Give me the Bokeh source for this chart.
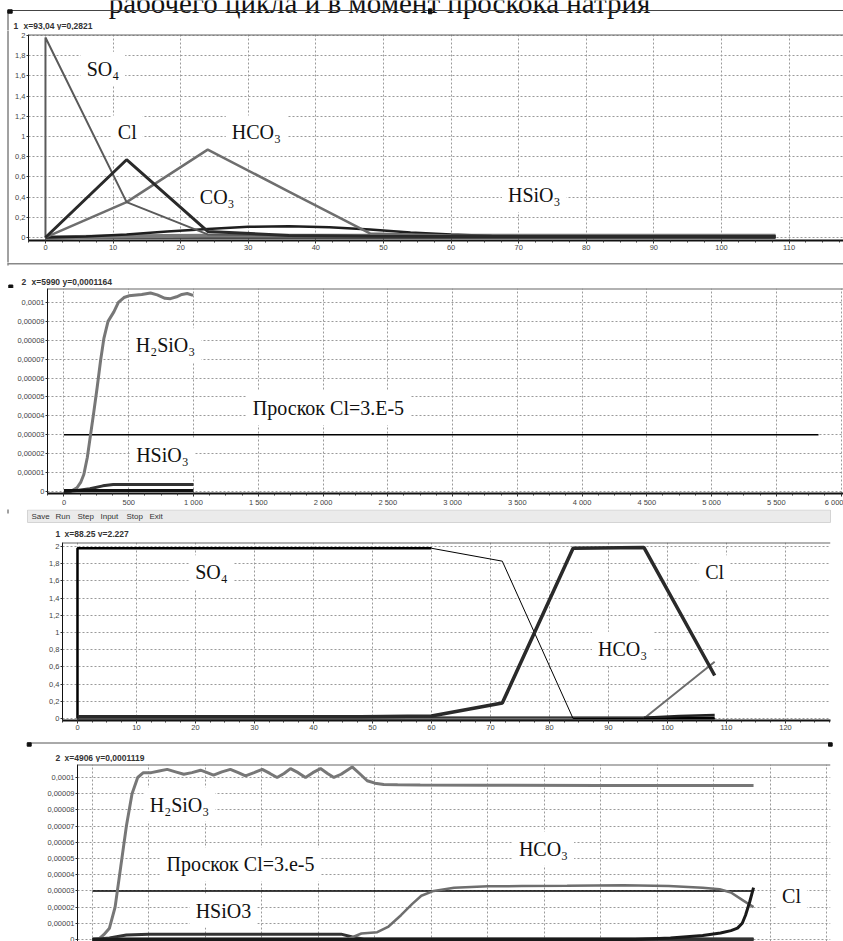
from bokeh.plotting import figure
from bokeh.models import Range1d, FixedTicker, Label, Span
from bokeh.layouts import column, row
from bokeh.embed import file_html
from bokeh.resources import INLINE
from bokeh.core.properties import value

# ---------------------------------------------------------------- DATA
TITLE_TEXT = "рабочего цикла и в момент проскока натрия"
HEADERS = [("1", "x=93,04 y=0,2821"), ("2", "x=5990 y=0,0001164"),
           ("1", "x=88,25 y=2,227"), ("2", "x=4906 y=0,0001119")]
MENU_ITEMS = ["Save", "Run", "Step", "Input", "Stop", "Exit"]

# panel 1
p1_x = [0, 12, 24, 36, 48, 60, 72, 84, 96, 108]
p1_so4_x = [0, 0, 12, 24, 36, 48, 60, 72, 84, 96, 108]
p1_so4_y = [0, 1.98, 0.35, 0.03, 0.02, 0.015, 0.01, 0.01, 0.01, 0.01, 0.01]
p1_cl_y = [0, 0.77, 0.06, 0.02, 0.012, 0.01, 0.01, 0.01, 0.01, 0.01]
p1_hco3_y = [0, 0.35, 0.87, 0.455, 0.04, 0.02, 0.015, 0.015, 0.015, 0.015]
p1_co3_x = [0, 6, 12, 18, 24, 30, 36, 42, 48, 54, 60, 66, 72, 84, 96, 108]
p1_co3_y = [0, 0.01, 0.03, 0.06, 0.085, 0.105, 0.11, 0.1, 0.08, 0.05, 0.03, 0.015, 0.01, 0.008, 0.006, 0.005]
p1_hsio3_y = [0, 0.012, 0.016, 0.016, 0.016, 0.016, 0.016, 0.016, 0.016, 0.016]
p1_h2sio3_y = [0.003, 0.003, 0.003, 0.003, 0.003, 0.003, 0.003, 0.003, 0.003, 0.003]
p1_xticks = [0, 10, 20, 30, 40, 50, 60, 70, 80, 90, 100, 110]
p1_xlabels = ["0", "10", "20", "30", "40", "50", "60", "70", "80", "90", "100", "110"]
p1_yticks = [0, 0.2, 0.4, 0.6, 0.8, 1, 1.2, 1.4, 1.6, 1.8, 2]
p1_ylabels = ["0", "0,2", "0,4", "0,6", "0,8", "1", "1,2", "1,4", "1,6", "1,8", "2"]

# panel 2
p2_h2sio3_x = [0, 50, 100, 130, 153, 180, 205, 230, 256, 282, 308, 340, 385, 420, 463,
               500, 540, 600, 668, 720, 780, 822, 870, 910, 951, 997]
p2_h2sio3_y = [0.0, 0.0, 0.2e-5, 0.5e-5, 0.9e-5, 1.8e-5, 3.0e-5, 4.2e-5, 5.5e-5, 6.9e-5, 8.1e-5,
               9.0e-5, 9.5e-5, 10.0e-5, 10.26e-5, 10.35e-5, 10.38e-5, 10.42e-5, 10.5e-5, 10.4e-5,
               10.22e-5, 10.2e-5, 10.3e-5, 10.42e-5, 10.47e-5, 10.37e-5]
p2_hsio3_x = [0, 100, 200, 300, 380, 500, 600, 700, 800, 900, 1000]
p2_hsio3_y = [0.0, 0.05e-5, 0.15e-5, 0.3e-5, 0.37e-5, 0.37e-5, 0.37e-5, 0.37e-5, 0.37e-5, 0.37e-5, 0.37e-5]
p2_base_x = [0, 1000]
p2_base_y = [0.05e-5, 0.05e-5]
p2_thr_x = [0, 5826]
p2_thr_y = [3e-5, 3e-5]
p2_xticks = [0, 500, 1000, 1500, 2000, 2500, 3000, 3500, 4000, 4500, 5000, 5500, 6000]
p2_xlabels = ["0", "500", "1 000", "1 500", "2 000", "2 500", "3 000", "3 500", "4 000",
              "4 500", "5 000", "5 500", "6 000"]
p2_yticks = [0, 0.00001, 0.00002, 0.00003, 0.00004, 0.00005, 0.00006, 0.00007, 0.00008, 0.00009, 0.0001]
p2_ylabels = ["0", "0,00001", "0,00002", "0,00003", "0,00004", "0,00005", "0,00006", "0,00007",
              "0,00008", "0,00009", "0,0001"]

# panel 3
p3_x = [0, 12, 24, 36, 48, 60, 72, 84, 96, 108]
p3_so4_x = [0, 0, 60, 72, 84, 96, 108]
p3_so4_y = [0, 1.98, 1.98, 1.83, 0.0, 0.0, 0.0]
p3_cl_y = [0.02, 0.02, 0.02, 0.02, 0.02, 0.03, 0.18, 1.98, 1.99, 0.5]
p3_hco3_y = [0, 0, 0, 0, 0, 0, 0, 0, 0, 0.66]
p3_co3_x = [96, 102, 108]
p3_co3_y = [0.01, 0.03, 0.04]
p3_base_y = [0.005, 0.005, 0.005, 0.005, 0.005, 0.005, 0.005, 0.005, 0.005, 0.005]
p3_xticks = [0, 10, 20, 30, 40, 50, 60, 70, 80, 90, 100, 110, 120]
p3_xlabels = ["0", "10", "20", "30", "40", "50", "60", "70", "80", "90", "100", "110", "120"]

# panel 4
p4_h2sio3_x = [0, 60, 100, 150, 200, 250, 300, 350, 400, 450, 520, 590, 661, 735, 808, 880, 956,
               1015, 1071, 1145, 1220, 1290, 1354, 1430, 1502, 1570, 1634, 1695, 1752, 1820, 1885,
               1950, 2018, 2080, 2136, 2200, 2298, 2370, 2431, 2500, 2577, 2700, 2900, 3500, 4500, 5850]
p4_h2sio3_y = [0.0, 0.05e-5, 0.3e-5, 0.7e-5, 2.0e-5, 4.5e-5, 7.0e-5, 9.0e-5, 10.0e-5, 10.3e-5,
               10.3e-5, 10.4e-5, 10.5e-5, 10.35e-5, 10.2e-5, 10.3e-5, 10.45e-5, 10.3e-5, 10.15e-5,
               10.35e-5, 10.5e-5, 10.3e-5, 10.1e-5, 10.3e-5, 10.5e-5, 10.25e-5, 10.0e-5, 10.25e-5,
               10.55e-5, 10.3e-5, 10.0e-5, 10.3e-5, 10.55e-5, 10.25e-5, 10.0e-5, 10.2e-5, 10.65e-5,
               10.2e-5, 9.8e-5, 9.65e-5, 9.57e-5, 9.55e-5, 9.53e-5, 9.52e-5, 9.51e-5, 9.51e-5]
p4_hsio3_x = [0, 150, 300, 500, 1000, 2200, 2300, 2400, 5850]
p4_hsio3_y = [0.0, 0.1e-5, 0.28e-5, 0.33e-5, 0.33e-5, 0.33e-5, 0.15e-5, 0.02e-5, 0.0]
p4_hco3_x = [2250, 2300, 2380, 2520, 2620, 2730, 2830, 2910, 3020, 3200, 3500, 3800, 4200, 4700,
             5100, 5400, 5550, 5650, 5760, 5850]
p4_hco3_y = [0.0, 0.15e-5, 0.37e-5, 0.45e-5, 0.8e-5, 1.5e-5, 2.2e-5, 2.7e-5, 3.0e-5, 3.2e-5,
             3.28e-5, 3.3e-5, 3.32e-5, 3.35e-5, 3.3e-5, 3.2e-5, 3.1e-5, 2.9e-5, 2.4e-5, 2.0e-5]
p4_cl_x = [0, 4800, 5115, 5400, 5558, 5650, 5708, 5750, 5779, 5815, 5850]
p4_cl_y = [0.0, 0.0, 0.1e-5, 0.25e-5, 0.4e-5, 0.55e-5, 0.7e-5, 1.0e-5, 1.5e-5, 2.3e-5, 3.2e-5]
p4_base_x = [0, 5850]
p4_base_y = [0.03e-5, 0.03e-5]
p4_thr_x = [0, 5850]
p4_thr_y = [3e-5, 3e-5]
p4_xgrid = [0, 500, 1000, 1500, 2000, 2500, 3000, 3500, 4000, 4500, 5000, 5500, 6000, 6500]

# text labels: (x, y, text)
p1_labels = [(8.5, 1.67, "SO₄"), (12.1, 1.04, "Cl"), (31.2, 1.04, "HCO₃"),
             (25.4, 0.40, "CO₃"), (72.3, 0.42, "HSiO₃")]
p2_labels = [(784, 7.74e-5, "H₂SiO₃"), (2042, 4.42e-5, "Проскок Cl=3.E-5"), (760, 1.95e-5, "HSiO₃")]
p3_labels = [(22.7, 1.70, "SO₄"), (108, 1.70, "Cl"), (92.4, 0.81, "HCO₃")]
p4_labels = [(770, 8.33e-5, "H₂SiO₃"), (1310, 4.63e-5, "Проскок Cl=3.e-5"),
             (1159, 1.79e-5, "HSiO3"), (3991, 5.6e-5, "HCO₃"), (6186, 2.7e-5, "Cl")]

# ---------------------------------------------------------------- LAYOUT
W = 843
GRAY = "#6e6e6e"
DARK = "#2a2a2a"
SANS = "Liberation Sans"
SERIF = "Liberation Serif"


def strip(width, top_px, bottom_px, x0=0.0):
    s = figure(width=width, height=bottom_px - top_px,
               x_range=Range1d(x0, x0 + width), y_range=Range1d(bottom_px, top_px),
               x_axis_location=None, y_axis_location=None, frame_align=False,
               output_backend="svg", toolbar_location=None, tools="", min_border=0)
    s.grid.visible = False
    s.outline_line_color = None
    s.background_fill_color = "white"
    s.border_fill_color = "white"
    return s


def header(s, x1, x2, y, pair):
    s.text(x=[x1, x2], y=[y, y], text=[pair[0], pair[1]], text_font=value(SANS),
           text_font_size="8.5px", text_font_style="bold", text_color="#333",
           text_baseline="middle", text_align="left")


def panel(width, height, xr, yr, bl, br, bt, bb, xaxis=True):
    p = figure(width=width, height=height, x_range=Range1d(*xr), y_range=Range1d(*yr),
               x_axis_location="below" if xaxis else None, frame_align=False,
               output_backend="svg", toolbar_location=None, tools="",
               min_border_left=bl, min_border_right=br, min_border_top=bt, min_border_bottom=bb)
    p.outline_line_color = None
    p.background_fill_color = "white"
    p.border_fill_color = "white"
    p.grid.grid_line_color = "#9a9a9a"
    p.grid.grid_line_dash = "2 2"
    p.grid.grid_line_width = 1
    for ax in p.axis:
        ax.axis_line_color = "#111"
        ax.major_tick_line_color = "#333"
        ax.minor_tick_line_color = "#333"
        ax.major_tick_in = 0
        ax.minor_tick_in = 0
        ax.major_label_text_font = SANS
        ax.major_label_text_font_size = "7.5px"
        ax.major_label_text_color = "#444"
    for ax in p.yaxis:
        ax.major_tick_out = 2
        ax.minor_tick_out = 0
        ax.major_label_standoff = 1
    for ax in p.xaxis:
        ax.axis_line_width = 2
        ax.major_tick_out = 3
        ax.minor_tick_out = 2
        ax.major_label_standoff = 1
    p.add_layout(Span(location=yr[1], dimension="width", line_color="#666", line_width=2))
    return p


def set_y(p, ticks, labels):
    p.yaxis.ticker = FixedTicker(ticks=ticks)
    p.yaxis.major_label_overrides = dict(zip(ticks, labels))


def set_x(p, ticks, labels, minor):
    p.xaxis.ticker = FixedTicker(ticks=ticks, minor_ticks=minor)
    p.xaxis.major_label_overrides = dict(zip(ticks, labels))


def add_labels(p, labels):
    for x, y, t in labels:
        p.add_layout(Label(x=x, y=y, text=t, text_font=SERIF, text_font_size="20px",
                           text_color="#111", text_align="center", text_baseline="middle",
                           background_fill_color="white", padding=6))


# ---- strip 0: clipped heading + panel-1 header
s0 = strip(W, 0, 30)
s0.text(x=[379], y=[2], text=[TITLE_TEXT], text_font=value(SERIF), text_font_size="29px",
        text_align="center", text_baseline="alphabetic", text_color="#111")
s0.segment(x0=[7.5, 7.5], y0=[10, 10], x1=[843, 7.5], y1=[10, 40], line_color="#444", line_width=1)
s0.quad(left=[7.3, 428], right=[11.7, 431.3], top=[9.3, 8.3], bottom=[12.7, 13.3], color="#111")
header(s0, 13, 23, 25, HEADERS[0])

# ---- panel 1 (with a thin strip on its left for the page border)
l1 = strip(10, 30, 262)
l1.segment(x0=[7.5], y0=[0], x1=[7.5], y1=[300], line_color="#444", line_width=1)
p1 = panel(W - 10, 232, (-2.51, 118.05), (-0.03, 2.01), 18, 0, 4, 22)
set_x(p1, p1_xticks, p1_xlabels, [i * 2.5 for i in range(-1, 48)])
set_y(p1, p1_yticks, p1_ylabels)
p1.line(p1_x, p1_h2sio3_y, line_color="#111", line_width=3)
p1.line(p1_x, p1_hsio3_y, line_color="#7a7a7a", line_width=4)
p1.line(p1_co3_x, p1_co3_y, line_color="#1e1e1e", line_width=2.5)
p1.line(p1_x, p1_hco3_y, line_color=GRAY, line_width=2.5)
p1.line(p1_so4_x, p1_so4_y, line_color="#5a5a5a", line_width=2)
p1.line(p1_x, p1_cl_y, line_color=DARK, line_width=3)
add_labels(p1, p1_labels)

# ---- strip 1
s1 = strip(W, 262, 288)
s1.segment(x0=[7.5, 7.5], y0=[263.2, 255], x1=[843, 7.5], y1=[263.2, 265], line_color="#888", line_width=1.5)
s1.quad(left=[8.3], right=[12.3], top=[284.5], bottom=[288], color="#111")
header(s1, 21, 31, 281, HEADERS[1])

# ---- panel 2
p2 = panel(W, 221, (-127.4, 6019), (-1.05e-6, 1.0737e-4), 47, 0, 0, 15)
set_x(p2, p2_xticks, p2_xlabels, [i * 125 for i in range(-1, 49)])
set_y(p2, p2_yticks, p2_ylabels)
p2.line(p2_thr_x, p2_thr_y, line_color="#000", line_width=1.5)
p2.line(p2_h2sio3_x, p2_h2sio3_y, line_color="#777", line_width=3)
p2.line(p2_hsio3_x, p2_hsio3_y, line_color="#333", line_width=3)
p2.line(p2_base_x, p2_base_y, line_color="#111", line_width=3)
add_labels(p2, p2_labels)

# ---- strip 2: menu bar + panel-3 header
s2 = strip(W, 509, 537)
s2.quad(left=[27], right=[830], top=[509.5], bottom=[522], fill_color="#ebebeb", line_color="#d4d4d4")
s2.segment(x0=[7.5], y0=[505], x1=[7.5], y1=[513], line_color="#444", line_width=1)
s2.text(x=[31, 55, 77, 100, 126, 149], y=[516] * 6, text=MENU_ITEMS, text_font=value(SANS),
        text_font_size="8px", text_color="#333", text_baseline="middle", text_align="left")
header(s2, 55, 64, 533, HEADERS[2])

# ---- panel 3
p3 = panel(W, 204, (-2.54, 127.63), (-0.023, 2.047), 62, 13, 5, 21)
set_x(p3, p3_xticks, p3_xlabels, [i * 2.5 for i in range(-1, 52)])
set_y(p3, p1_yticks, p1_ylabels)
p3.line(p3_x, p3_base_y, line_color="#000", line_width=3)
p3.line(p3_x, p3_hco3_y, line_color=GRAY, line_width=2)
p3.line(p3_co3_x, p3_co3_y, line_color="#222", line_width=2.5)
p3.line(p3_so4_x[:3], p3_so4_y[:3], line_color="#000", line_width=2.5)
p3.line(p3_so4_x[2:], p3_so4_y[2:], line_color="#000", line_width=1)
p3.line(p3_x, p3_cl_y, line_color=DARK, line_width=3.5)
add_labels(p3, p3_labels)

# ---- strip 3
s3 = strip(W, 741, 762)
s3.segment(x0=[27], y0=[742.5], x1=[830], y1=[742.5], line_color="#555", line_width=1)
s3.quad(left=[26.7, 828], right=[30.7, 831.7], top=[742.3, 742.3], bottom=[745.7, 745.7], color="#111")
header(s3, 55, 64, 757, HEADERS[3])

# ---- panel 4
p4 = panel(W, 179, (-132.7, 6531), (-1.23e-6, 1.0802e-4), 77, 13, 2, 0, xaxis=False)
p4.xgrid.ticker = FixedTicker(ticks=p4_xgrid)
set_y(p4, p2_yticks, p2_ylabels)
p4.line(p4_thr_x, p4_thr_y, line_color="#000", line_width=1.5)
p4.line(p4_base_x, p4_base_y, line_color="#000", line_width=3)
p4.line(p4_h2sio3_x, p4_h2sio3_y, line_color="#777", line_width=3)
p4.line(p4_hsio3_x, p4_hsio3_y, line_color="#333", line_width=3)
p4.line(p4_hco3_x, p4_hco3_y, line_color=GRAY, line_width=2.5)
p4.line(p4_cl_x, p4_cl_y, line_color="#1a1a1a", line_width=3)
add_labels(p4, p4_labels)

layout = column(s0, row(l1, p1), s1, p2, s2, p3, s3, p4)
open("out.html", "w").write(file_html(layout, INLINE))
